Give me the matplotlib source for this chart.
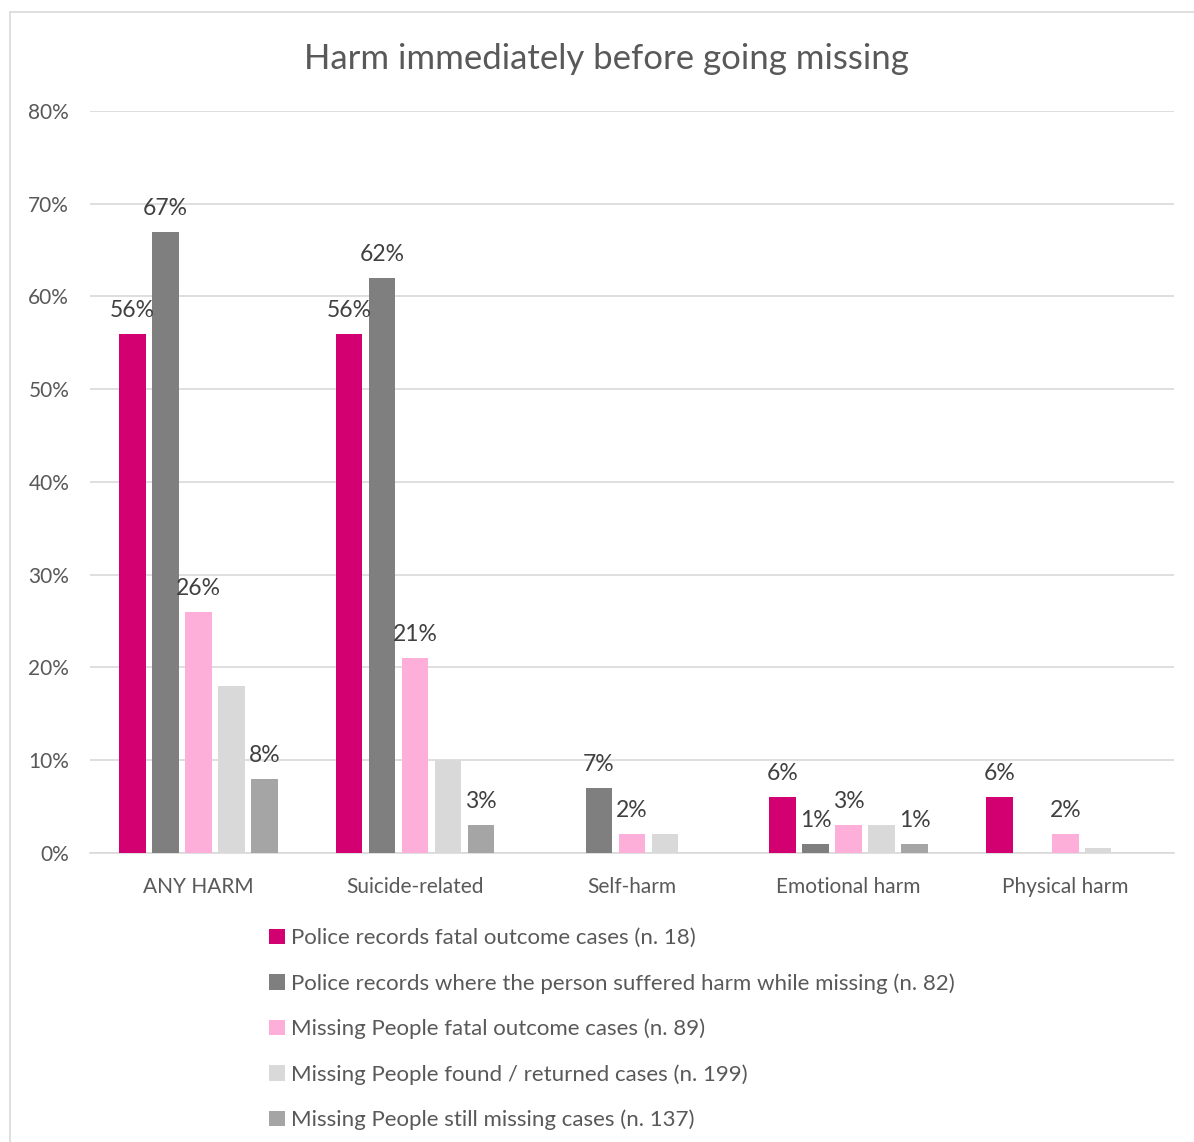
import matplotlib
matplotlib.use("Agg")
import matplotlib.pyplot as plt
import numpy as np
from matplotlib.patches import Rectangle

categories = ["ANY HARM", "Suicide-related", "Self-harm", "Emotional harm", "Physical harm"]
series_names = [
    "Police records fatal outcome cases (n. 18)",
    "Police records where the person suffered harm while missing (n. 82)",
    "Missing People fatal outcome cases (n. 89)",
    "Missing People found / returned cases (n. 199)",
    "Missing People still missing cases (n. 137)",
]
police_fatal = [56, 56, 0, 6, 6]
police_harm = [67, 62, 7, 1, 0]
mp_fatal = [26, 21, 2, 3, 2]
mp_found = [18, 10, 2, 3, 0.5]
mp_still = [8, 3, 0, 1, 0]
show_labels = [True, True, True, False, True]

colors = ["#D20070", "#7F7F7F", "#FDAFDA", "#D9D9D9", "#A5A5A5"]
text_color = "#595959"
grid_color = "#D9D9D9"

plt.rcParams["font.family"] = ["Lato", "DejaVu Sans"]

fig = plt.figure(figsize=(11.94, 11.42), dpi=100)
ax = fig.add_axes([0.0754, 0.2531, 0.9076, 0.6497])

# outer chart border
fig.patches.append(Rectangle((0.0085, -0.01), 1.2, 0.9995, transform=fig.transFigure,
                             fill=False, edgecolor="#D9D9D9", linewidth=1.2))

x = np.arange(len(categories))
slot = 0.152
width = 0.122
all_series = [police_fatal, police_harm, mp_fatal, mp_found, mp_still]
for i, vals in enumerate(all_series):
    pos = x + (i - 2) * slot
    ax.bar(pos, vals, width, color=colors[i], label=series_names[i], zorder=3)
    if show_labels[i]:
        for p, v in zip(pos, vals):
            if v > 0:
                ax.text(p, v + 1.4, f"{v:.0f}%", ha="center", va="bottom",
                        fontsize=16.5, color="#404040", zorder=4)

ax.set_xlim(-0.5, 4.5)
ax.set_ylim(0, 80)
ax.set_yticks(range(0, 81, 10))
ax.set_yticklabels([f"{t}%" for t in range(0, 81, 10)])
ax.set_xticks(x)
ax.set_xticklabels(categories)
ax.tick_params(axis="both", length=0, labelsize=15, colors=text_color)
ax.tick_params(axis="y", pad=15)
ax.tick_params(axis="x", pad=17)
ax.yaxis.grid(True, color=grid_color, linewidth=1.2, zorder=0)
for s in ["top", "right", "left"]:
    ax.spines[s].set_visible(False)
ax.spines["bottom"].set_color(grid_color)
ax.spines["bottom"].set_linewidth(1.2)

fig.text(0.508, 0.948, "Harm immediately before going missing", ha="center", va="center",
         fontsize=25, color=text_color)

leg = fig.legend(loc="upper left", bbox_to_anchor=(0.218, 0.195), ncol=1, frameon=False,
                 fontsize=16, labelcolor=text_color, handlelength=0.7, handleheight=0.7,
                 handletextpad=0.3, labelspacing=1.12, borderaxespad=0)

fig.savefig("out.png", dpi=100)
